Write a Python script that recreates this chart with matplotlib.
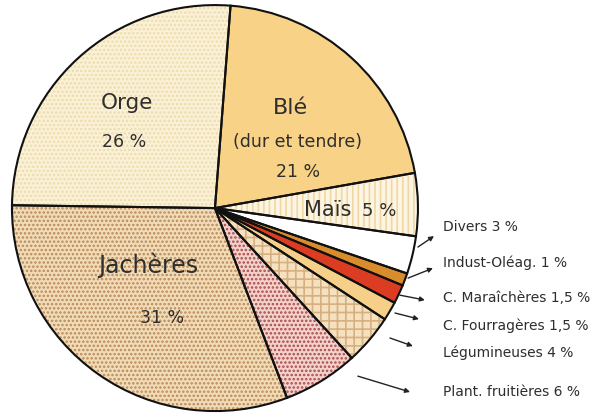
import matplotlib.pyplot as plt

plt.rcParams['font.family'] = ['DejaVu Sans']
plt.rcParams['hatch.linewidth'] = 1.2

# Slices, counter-clockwise starting just below the horizontal on the right
crops = ['Maïs', 'Blé', 'Orge', 'Jachères', 'Plant. fruitières',
         'Légumineuses', 'C. Fourragères', 'C. Maraîchères',
         'Indust-Oléag.', 'Divers']
shares = [5, 21, 26, 31, 6, 4, 1.5, 1.5, 1, 3]
share_labels = ['5 %', '21 %', '26 %', '31 %', '6 %', '4 %',
                '1,5 %', '1,5 %', '1 %', '3 %']

fill_colors = ['#fdf5e4', '#f8d286', '#fbf1d6', '#f2dcb8', '#f4d2cc',
               '#f5e0c0', '#f6cf88', '#dc3c22', '#d98c2c', '#ffffff']
hatch_colors = ['#f0d7a4', '#f8d286', '#ecdcae', '#b88a5a', '#a84a4a',
                '#d8b080', '#f6cf88', '#dc3c22', '#d98c2c', '#ffffff']
hatches = ['|||', None, '....', '....', '....', '++', None, None, None, None]

fig = plt.figure(figsize=(5.98, 4.2), dpi=100)
ax = fig.add_axes([0, 0, 1, 1])

start = -8
# pass 1: fills + textures
wedges, _ = ax.pie(shares, colors=fill_colors, startangle=start,
                   counterclock=True, radius=1,
                   wedgeprops=dict(linewidth=0))
for w, h, hc in zip(wedges, hatches, hatch_colors):
    if h:
        w.set_hatch(h)
        w.set_edgecolor(hc)
        w.set_linewidth(0)
# pass 2: black outlines
ax.pie(shares, colors=['none'] * len(shares), startangle=start,
       counterclock=True, radius=1,
       wedgeprops=dict(linewidth=1.5, edgecolor='#111111', fill=False))

ax.set_aspect('equal')
ax.set_xlim(-1.059, 1.887)
ax.set_ylim(-1.044, 1.025)
ax.axis('off')

tc = '#2e2e2e'
# inner labels
ax.text(-0.433, 0.517, crops[2], fontsize=15.5, ha='center', va='center', color=tc)
ax.text(-0.446, 0.325, share_labels[2], fontsize=12.5, ha='center', va='center', color=tc)
ax.text(0.37, 0.492, crops[1], fontsize=16, ha='center', va='center', color=tc)
ax.text(0.409, 0.325, '(dur et tendre)', fontsize=12.5, ha='center', va='center', color=tc)
ax.text(0.409, 0.177, share_labels[1], fontsize=12.5, ha='center', va='center', color=tc)
ax.text(0.557, -0.01, crops[0], fontsize=15, ha='center', va='center', color=tc)
ax.text(0.724, -0.015, share_labels[0], fontsize=13, ha='left', va='center', color=tc)
ax.text(-0.33, -0.281, crops[3], fontsize=17, ha='center', va='center', color=tc)
ax.text(-0.261, -0.542, share_labels[3], fontsize=12.5, ha='center', va='center', color=tc)

# outer labels with arrows
outer = [9, 8, 7, 6, 5, 4]
label_y = [-0.094, -0.271, -0.443, -0.581, -0.714, -0.906]
arrow_tail = [(1.0, -0.192), (0.951, -0.345), (0.911, -0.429),
              (0.887, -0.517), (0.862, -0.640), (0.704, -0.828)]
arrow_head = [(1.079, -0.138), (1.074, -0.296), (1.034, -0.453),
              (1.005, -0.547), (0.975, -0.680), (0.961, -0.906)]
for i, y, tail, head in zip(outer, label_y, arrow_tail, arrow_head):
    ax.text(1.123, y, f'{crops[i]} {share_labels[i]}', fontsize=10,
            ha='left', va='center', color=tc)
    ax.annotate('', xy=head, xytext=tail,
                arrowprops=dict(arrowstyle='-|>', color='#222222', lw=1.0,
                                mutation_scale=7, shrinkA=0, shrinkB=0))

fig.savefig('out.png', dpi=100)
